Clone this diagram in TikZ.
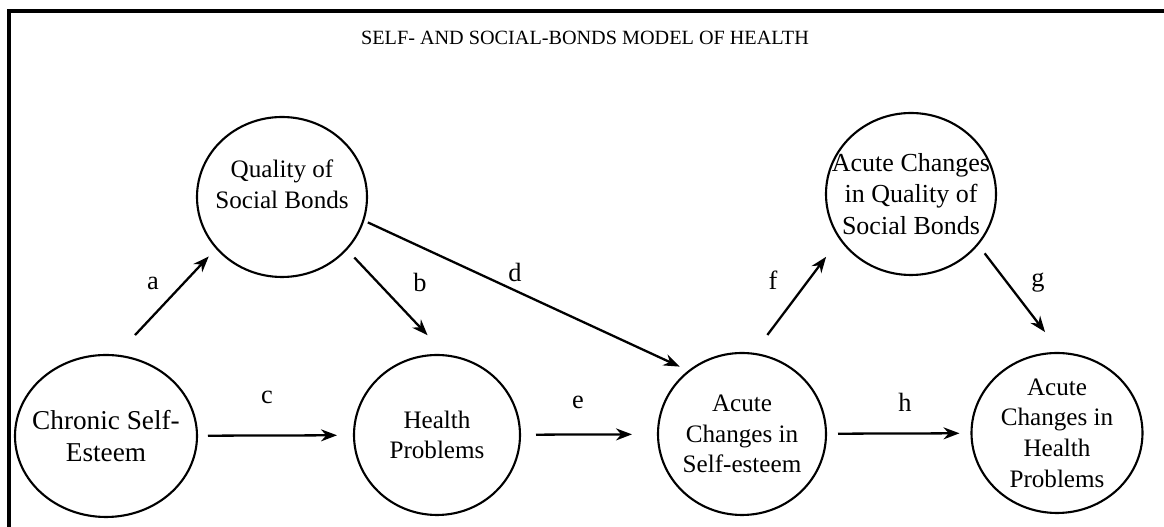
\documentclass[tikz,border=0pt]{standalone}
\usepackage{fontspec}
\setmainfont{Liberation Serif}
\usetikzlibrary{shapes.geometric}
\usetikzlibrary{arrows.meta}

\tikzset{
  bubble/.style={draw,ellipse,line width=1.2pt,inner sep=-1cm,outer sep=0pt,
    align=center,font=\fontsize{14.3}{17.5}\selectfont},
  tag/.style={inner sep=0pt,font=\fontsize{15}{17}\selectfont},
  link/.style={-{Stealth[length=0.32cm,width=0.24cm]},line width=1.3pt},
}

\begin{document}
\begin{tikzpicture}
    \useasboundingbox (0,0) rectangle (23.28,10.54);
    \draw[line width=1.9pt] (0.18,0) -- (0.18,10.32) -- (23.28,10.32);

    \draw node at (11.70,9.79)[name=title,inner sep=0pt,font=\fontsize{11.5}{14}\selectfont]{SELF- AND SOCIAL-BONDS MODEL OF HEALTH};

    \draw node at (2.12,1.82)[name=chronic,bubble,minimum width=3.64cm,minimum height=3.24cm,font=\fontsize{15.5}{18}\selectfont]{Chronic Self-\\Esteem};
    \draw node at (5.64,6.60)[name=bonds,bubble,minimum width=3.4cm,minimum height=3.2cm,text depth=0.5cm]{Quality of\\Social Bonds};
    \draw node at (8.74,1.84)[name=health,bubble,minimum width=3.32cm,minimum height=3.2cm]{Health\\Problems};
    \draw node at (14.84,1.86)[name=acuteself,bubble,minimum width=3.36cm,minimum height=3.24cm]{Acute\\Changes in\\Self-esteem};
    \draw node at (18.22,6.66)[name=acutebonds,bubble,minimum width=3.4cm,minimum height=3.24cm,font=\fontsize{14.8}{18}\selectfont]{Acute Changes\\in Quality of\\Social Bonds};
    \draw node at (21.14,1.88)[name=acutehealth,bubble,minimum width=3.42cm,minimum height=3.2cm]{Acute\\Changes in\\Health\\Problems};

    \draw[link,shorten <=0.56cm,shorten >=0.23cm](chronic.83.3) -- (bonds.218.9);
    \draw[link,shorten <=0.23cm,shorten >=0.56cm](bonds.321.7) -- (health.83.6);
    \draw[link,shorten <=0.10cm,shorten >=0.21cm](bonds.344.3) -- (acuteself.130.5);
    \draw[link,shorten <=0.22cm,shorten >=0.34cm](chronic) -- (health);
    \draw[link,shorten <=0.32cm,shorten >=0.52cm](health) -- (acuteself);
    \draw[link,shorten <=0.47cm,shorten >=0.46cm](acuteself.82.3) -- (acutebonds.212);
    \draw[link,shorten <=0.23cm,shorten >=0.53cm](acutebonds.323.4) -- (acutehealth.87.2);
    \draw[link,shorten <=0.24cm,shorten >=0.24cm](acuteself) -- (acutehealth);

    \draw node at (3.06,4.88)[name=taga,tag]{a};
    \draw node at (8.40,4.90)[name=tagb,tag]{b};
    \draw node at (5.34,2.60)[name=tagc,tag]{c};
    \draw node at (10.30,5.10)[name=tagd,tag]{d};
    \draw node at (11.56,2.50)[name=tage,tag]{e};
    \draw node at (15.46,4.94)[name=tagf,tag]{f};
    \draw node at (20.76,4.88)[name=tagg,tag]{g};
    \draw node at (18.10,2.50)[name=tagh,tag]{h};
\end{tikzpicture}
\end{document}
